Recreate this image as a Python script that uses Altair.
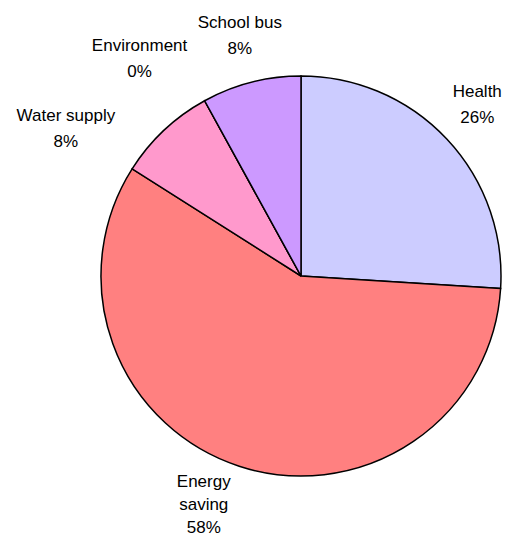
import altair as alt
import pandas as pd

categories = ["Health", "Energy saving", "Water supply", "Environment", "School bus"]
values = [26, 58, 8, 0, 8]
label_text = ["Health\n26%", "Energy\nsaving\n58%", "Water supply\n8%", "Environment\n0%", "School bus\n8%"]
colors = ["#CCCCFF", "#FF8080", "#FF99CC", "#FFFFFF", "#CC99FF"]

df = pd.DataFrame({
    "category": categories,
    "value": values,
    "label": label_text,
    "order": list(range(len(categories))),
})

CX, CY, R, LR = 293, 268, 200, 250
# label nudges (layout only): category -> (dx, dy, lineHeight)
nudges = {
    "Health": (-6, -13, 26),
    "Energy saving": (-20, -32, 23),
    "Water supply": (-64, 22, 26),
    "Environment": (-41, -11, 26),
    "School bus": (1, -11, 26),
}

base = alt.Chart(df).transform_stack(
    stack="value", groupby=[], as_=["v0", "v1"], sort=[alt.SortField("order", order="ascending")]
).transform_calculate(mid="(datum.v0 + datum.v1) / 2")

theta_scale = alt.Scale(domain=[0, 100], range=[0, 6.283185307179586])

arcs = base.mark_arc(outerRadius=R, stroke="black", strokeWidth=1.5).encode(
    theta=alt.Theta("v0:Q", scale=theta_scale),
    theta2="v1:Q",
    color=alt.Color("category:N", scale=alt.Scale(domain=categories, range=colors), legend=None),
    x=alt.value(CX),
    y=alt.value(CY),
)

layers = [arcs]
for cat in categories:
    dx, dy, lh = nudges[cat]
    t = base.transform_filter(alt.datum.category == cat).mark_text(
        font="Liberation Sans", fontSize=17, lineHeight=lh, lineBreak="\n",
        align="center", baseline="middle", dx=dx, dy=dy, color="black",
    ).encode(
        theta=alt.Theta("mid:Q", scale=theta_scale),
        radius=alt.value(LR),
        text="label:N",
        x=alt.value(CX),
        y=alt.value(CY),
    )
    layers.append(t)

chart = alt.layer(*layers).properties(
    width=495, height=531, autosize=alt.AutoSizeParams(type="none"), padding=0
).configure(background="white").configure_view(stroke="transparent", clip=False)

chart.save("out.html", embed_options={"renderer": "svg", "actions": False})
